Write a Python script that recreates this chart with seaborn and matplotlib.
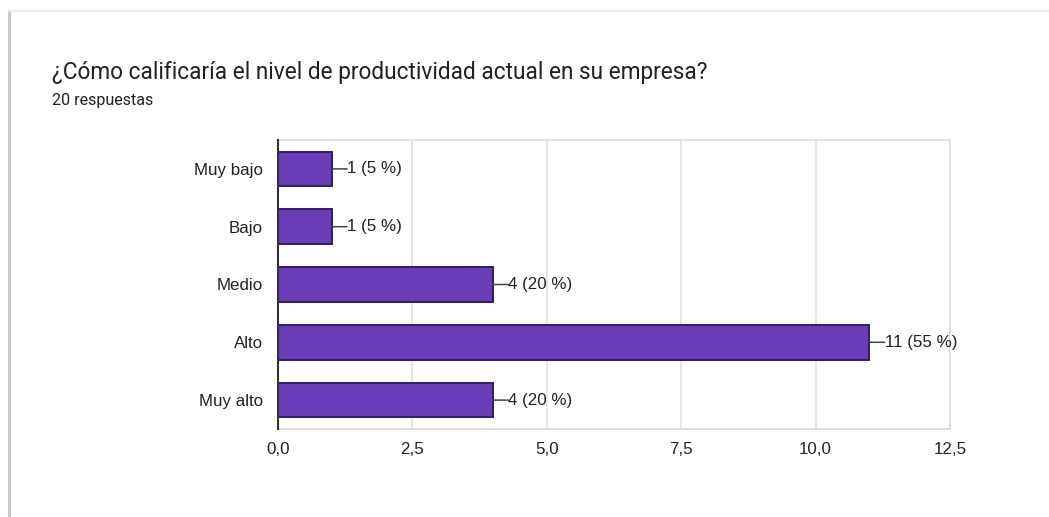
import matplotlib
matplotlib.use("Agg")
import matplotlib.pyplot as plt
import matplotlib.ticker as mticker
from matplotlib.lines import Line2D
import seaborn as sns
import pandas as pd

categories = ["Muy bajo", "Bajo", "Medio", "Alto", "Muy alto"]
counts = [1, 1, 4, 11, 4]
total_responses = 20
x_ticks = [0.0, 2.5, 5.0, 7.5, 10.0, 12.5]

title = "¿Cómo calificaría el nivel de productividad actual en su empresa?"
subtitle = f"{total_responses} respuestas"

sns.set_theme(style="white")
plt.rcParams["font.family"] = ["Liberation Sans", "DejaVu Sans"]

df = pd.DataFrame({"categoria": categories, "respuestas": counts})

fig = plt.figure(figsize=(10.49, 5.17), dpi=100)
fig.patch.set_facecolor("white")
W, H = 1049, 517

# card edges (soft grey shadow on left and top)
fig.add_artist(Line2D([9 / W, 9 / W], [0, 1 - 11 / H], color="#c8c8c8", lw=2.2,
                      transform=fig.transFigure))
fig.add_artist(Line2D([9 / W, 1], [1 - 11 / H, 1 - 11 / H], color="#ececec", lw=1.5,
                      transform=fig.transFigure))

ax = fig.add_axes([278 / W, 1 - 429 / H, (950 - 278) / W, (429 - 140) / H])

sns.barplot(data=df, x="respuestas", y="categoria", orient="h", ax=ax,
            color="#683db5", saturation=1, width=0.6,
            edgecolor="#2f1a72", linewidth=1.4, zorder=3)

ax.set_xlim(0, 12.5)
ax.set_ylim(len(categories) - 0.5, -0.5)
ax.set_xticks(x_ticks)
ax.xaxis.set_major_formatter(mticker.FuncFormatter(lambda v, p: f"{v:.1f}".replace(".", ",")))
ax.grid(axis="x", color="#e0e0e0", lw=1.2, zorder=0)
ax.set_xlabel("")
ax.set_ylabel("")

for side in ["top", "right"]:
    ax.spines[side].set_visible(True)
    ax.spines[side].set_color("#e0e0e0")
    ax.spines[side].set_linewidth(1.2)
ax.spines["bottom"].set_color("#d6d6d6")
ax.spines["bottom"].set_linewidth(1.2)
ax.spines["left"].set_color("#333333")
ax.spines["left"].set_linewidth(1.5)
ax.spines["left"].set_zorder(5)

ax.tick_params(axis="x", length=0, pad=9, labelsize=12.2, labelcolor="#222222")
ax.tick_params(axis="y", length=0, pad=11, labelsize=12.2, labelcolor="#222222")

for i, v in enumerate(counts):
    pct = round(100 * v / total_responses)
    ax.annotate(f"{v} ({pct} %)", xy=(v, i), xytext=(11, 0), textcoords="offset points",
                ha="left", va="center", fontsize=12.2, color="#222222",
                arrowprops=dict(arrowstyle="-", color="#444444", lw=1.1, patchA=None,
                                shrinkA=0, shrinkB=0, relpos=(0, 0.5)))

fig.text(52 / W, 1 - 73 / H, title, fontsize=16.3, color="#202124",
         family=["Roboto", "DejaVu Sans"], va="center", ha="left")
fig.text(52 / W, 1 - 100 / H, subtitle, fontsize=11.5, color="#202124",
         family=["Roboto", "DejaVu Sans"], va="center", ha="left")

fig.savefig("out.png", dpi=100, facecolor="white")
